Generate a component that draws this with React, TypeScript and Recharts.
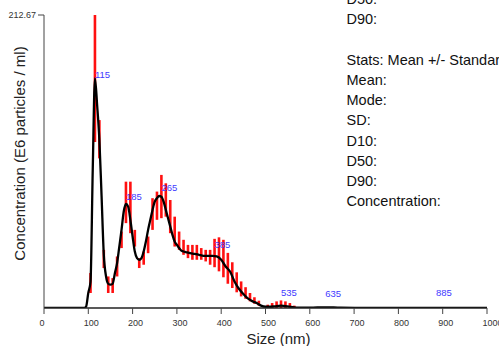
import React from "react";
import { ComposedChart, Line, Scatter, ErrorBar, XAxis, YAxis, Label } from "recharts";

// Mean concentration curve (size in nm, concentration in E6 particles / ml)
const lineSizes = [0, 90, 95, 100, 105, 110, 115, 120, 125, 130, 135, 140, 145, 150, 155, 160, 165, 170, 175, 180, 185, 190, 195, 200, 205, 210, 215, 220, 225, 230, 235, 240, 245, 250, 255, 260, 265, 270, 275, 280, 285, 290, 295, 300, 305, 310, 315, 320, 330, 340, 350, 360, 370, 380, 390, 400, 410, 420, 430, 440, 450, 460, 470, 480, 490, 500, 510, 520, 535, 550, 570, 600, 635, 670, 750, 885, 1000];
const lineMeans = [0, 0, 1, 11, 19, 100, 166.6, 147, 122, 81, 38.6, 23, 17.6, 16.9, 17.6, 25.3, 32.6, 44.6, 56.7, 70, 75.5, 73.6, 64, 51.9, 41, 36.2, 35, 36.2, 41, 48.2, 56.7, 64, 71.2, 77.2, 79.7, 81.3, 80.8, 77.2, 71.2, 65.2, 59.1, 53.1, 48.2, 45.8, 43.5, 41.7, 41, 40.6, 39.8, 39.3, 38.6, 37.9, 37.9, 37.9, 37.4, 35, 30.1, 26.5, 19.3, 14, 10.2, 7, 5, 3.6, 1.7, 0.9, 0.9, 1.2, 1.7, 1.2, 0.3, 0.2, 0.5, 0.2, 0.1, 0.1, 0];

// Error bar extents (red) per 10 nm bin
const barSizes = [105, 115, 125, 135, 145, 155, 165, 175, 185, 195, 205, 215, 225, 235, 245, 255, 265, 275, 285, 295, 305, 315, 325, 335, 345, 355, 365, 375, 385, 395, 405, 415, 425, 435, 445, 455, 465, 475, 485, 505, 515, 525, 535, 545, 555, 565];
const barLow = [10.9, 120.5, 108.6, 29, 10.9, 10.9, 22.9, 43.5, 61.6, 54.3, 44.6, 29, 31.4, 39.8, 56.7, 64, 65.2, 66.3, 54.3, 44.6, 42.2, 38.6, 36.2, 35, 35, 35, 33.8, 31.4, 29.6, 26.6, 22.3, 17.6, 14.5, 11.4, 8.4, 6.7, 4.8, 3.1, 1.7, 0, 0, 0, 0, 0, 0, 0];
const barHigh = [25.4, 212.67, 136.4, 42.2, 22.9, 21.7, 37.4, 55.5, 91.7, 91.7, 56.7, 36.2, 41, 51.9, 79.7, 84.5, 96.6, 90.5, 78.4, 66.3, 55.5, 49.5, 45.8, 45.8, 45.8, 43.5, 42.2, 42.2, 50.2, 51.3, 49.5, 40, 33.2, 25.9, 19.3, 15.1, 10.9, 7.8, 5.3, 2.4, 3.6, 4.8, 5.5, 4.8, 3.6, 1.7];

// Peak labels
const peakSizes = [115, 185, 265, 385, 535, 635, 885];
const peakLabelValues = [167.2, 78.1, 84.6, 43.3, 8.8, 7.8, 8.8];

const xTicks = [0, 100, 200, 300, 400, 500, 600, 700, 800, 900, 1000];
const yTicks = [212.67];

const statLines = ["D50:", "D90:", "", "Stats: Mean +/- Standard Error", "Mean:", "Mode:", "SD:", "D10:", "D50:", "D90:", "Concentration:"];

const FONT = "'Liberation Sans', Arial, Helvetica, sans-serif";

const lineData = lineSizes.map((s, i) => ({ size: s, mean: lineMeans[i] }));
const barData = barSizes.map((s, i) => ({
  size: s,
  mid: (barLow[i] + barHigh[i]) / 2,
  err: (barHigh[i] - barLow[i]) / 2,
}));
const labelData = peakSizes.map((s, i) => ({ size: s, v: peakLabelValues[i], label: String(s) }));

const XTick = (props: any) => {
  const { x, y, payload } = props;
  return (
    <text x={x - 4.5} y={y} dy={9.5} textAnchor="start" fontSize={9} fill="#333" fontFamily={FONT}>
      {payload.value}
    </text>
  );
};

const YLabel = (props: any) => {
  const vb = props.viewBox || { x: 0, y: 15, width: 44, height: 293 };
  const cx = vb.x + 25;
  const cy = vb.y + vb.height / 2 - 8;
  return (
    <text x={cx} y={cy} transform={`rotate(-90 ${cx} ${cy})`} textAnchor="middle" fontSize={15} fill="#222" fontFamily={FONT}>
      Concentration (E6 particles / ml)
    </text>
  );
};

const PeakLabel = (props: any) => {
  const { cx, cy, payload } = props;
  return (
    <text x={cx} y={cy} fontSize={9.5} fill="#3f3aff" fontFamily={FONT}>
      {payload.label}
    </text>
  );
};

const NoShape = () => <g />;

export default function App() {
  return (
    <div style={{ position: "absolute", left: 0, top: 0, width: 499, height: 346, overflow: "hidden", background: "#fff", fontFamily: FONT }}>
      <ComposedChart width={499} height={346} data={lineData} margin={{ top: 15, right: 12, bottom: 0, left: 0 }}>
        <XAxis
          dataKey="size"
          type="number"
          domain={[0, 1000]}
          ticks={xTicks}
          interval={0}
          tick={<XTick />}
          tickSize={6}
          tickLine={{ stroke: "#444" }}
          axisLine={{ stroke: "#222", strokeWidth: 1.5 }}
          height={38}
          allowDataOverflow
        >
          <Label value="Size (nm)" position="insideBottom" offset={2} dx={13} style={{ fontSize: 15, fill: "#222", fontFamily: FONT }} />
        </XAxis>
        <YAxis
          type="number"
          domain={[0, 212.67]}
          ticks={yTicks}
          width={44}
          tickSize={6}
          tick={{ fontSize: 9, fill: "#333", fontFamily: FONT }}
          tickLine={{ stroke: "#444" }}
          tickFormatter={(v: number) => v.toFixed(2)}
          axisLine={{ stroke: "#444" }}
          allowDataOverflow
          label={{ content: YLabel } as any}
        />
        <Scatter data={barData} dataKey="mid" shape={NoShape} isAnimationActive={false}>
          <ErrorBar dataKey="err" width={0} stroke="#ff1010" strokeWidth={2.6} direction="y" isAnimationActive={false} />
        </Scatter>
        <Line dataKey="mean" type="monotone" stroke="#000" strokeWidth={2.3} dot={false} activeDot={false} isAnimationActive={false} />
        <Scatter data={labelData} dataKey="v" shape={PeakLabel} isAnimationActive={false} />
      </ComposedChart>
      <svg width={499} height={346} style={{ position: "absolute", left: 0, top: 0, pointerEvents: "none" }}>
        {statLines.map((t, i) => (
          <text key={i} x={346.5} y={4.2 + 20.2 * i} fontSize={14.5} fill="#111" fontFamily={FONT}>
            {t}
          </text>
        ))}
      </svg>
    </div>
  );
}
